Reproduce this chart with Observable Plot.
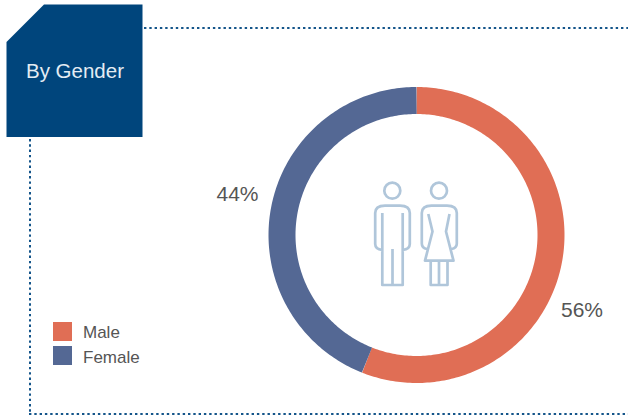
<!DOCTYPE html>
<html>
<head>
<meta charset="utf-8">
<script src="https://cdn.jsdelivr.net/npm/d3@7"></script>
<script src="https://cdn.jsdelivr.net/npm/@observablehq/plot@0.6"></script>
<style>
  html, body { margin: 0; padding: 0; background: #fff; }
  svg { display: block; }
</style>
</head>
<body>
<div id="chart"></div>
<script>
// Gender split shown on the donut
const genders = ["Male", "Female"];
const shares = [56, 44];
const shareLabels = ["56%", "44%"];
const panelTitle = "By Gender";

// Palette
const sliceColors = ["#e06e55", "#546894"];
const navy = "#00457c";
const dots = "#14558a";
const iconStroke = "#b0c6da";
const ink = "#555555";
const font = "'Liberation Sans', Arial, sans-serif";

// Page layout in pixels
const W = 628, H = 415;
const center = {x: 416, y: 234.5};
const ringRadius = 134.5, ringWidth = 27;

// Each slice becomes a polyline along the ring, clockwise from twelve o'clock
const slices = d3.pie().sort(null).value(d => d)(shares);
const ring = slices.flatMap((s, i) => {
  const steps = Math.ceil((s.endAngle - s.startAngle) * 60);
  return d3.range(steps + 1).map(k => {
    const a = s.startAngle + (s.endAngle - s.startAngle) * k / steps;
    return {
      gender: genders[i],
      x: center.x + ringRadius * Math.sin(a),
      y: center.y - ringRadius * Math.cos(a)
    };
  });
});

// Decorative shapes: title tab and the two pictograms
const tabPath = "M6.5,42L44,4.5H142.5V137H6.5Z";
const figurePaths = [
  // man
  "M384.3,190.7a8,8 0 1,0 16,0a8,8 0 1,0 -16,0" +
  "M382.3,250C378,249.5 375.2,247.5 375.2,244V213C375.2,208 379,205.6 385,205.6H400C406,205.6 409.8,208 409.8,213V244C409.8,247.5 407,249.5 402.7,250" +
  "M382.3,213V285H402.7V213M392.5,249V285",
  // woman
  "M431,190.7a8,8 0 1,0 16,0a8,8 0 1,0 -16,0" +
  "M427,249C424,248.5 421.8,246.5 421.8,243.5V213C421.8,208 425.5,205.6 431.5,205.6H447C453,205.6 456.8,208 456.8,213V243.5C456.8,246.5 454.5,248.5 451.5,249" +
  "M428.3,214L432.5,231.5L425,260.7H453.5L446,231.5L449.5,214" +
  "M430.7,260.7V285H447.5V260.7M439,260.7V285"
];

// Adds raw path geometry to the plot, given in page pixels through the position scales
const pathMark = (d, attrs) => (index, {x, y}) => {
  const p = d3.create("svg:path").attr("d", d)
    .attr("transform", `translate(${x(0)},${y(0)})`);
  for (const [k, v] of Object.entries(attrs)) p.attr(k, v);
  return p.node();
};

const dotted = {stroke: dots, strokeWidth: 2, strokeDasharray: "2.4 2.9"};
const legendRows = genders.map((g, i) => ({gender: g, row: i}));

const chart = Plot.plot({
  width: W,
  height: H,
  margin: 0,
  x: {domain: [0, W], range: [0, W], axis: null},
  y: {domain: [0, H], range: [0, H], axis: null},
  color: {domain: genders, range: sliceColors},
  style: {background: "#fff"},
  marks: [
    // dotted frame
    Plot.ruleY([27.5], {x1: 144, x2: W, ...dotted}),
    Plot.ruleX([29.5], {y1: 139, y2: 414, ...dotted}),
    Plot.ruleY([413.5], {x1: 29, x2: W, ...dotted}),

    // title tab
    pathMark(tabPath, {fill: navy}),
    Plot.text([panelTitle], {
      x: 74.5, y: 71, text: d => d, fill: "#e4ecf3",
      fontSize: 20.5, fontFamily: font
    }),

    // donut
    Plot.line(ring, {
      x: "x", y: "y", z: "gender", stroke: "gender",
      strokeWidth: ringWidth, strokeLinecap: "butt", strokeLinejoin: "round"
    }),

    // pictograms
    ...figurePaths.map(d => pathMark(d, {
      fill: "none", stroke: iconStroke, "stroke-width": 2.7, "stroke-linejoin": "round"
    })),

    // share labels
    Plot.text(shareLabels, {
      x: [581.5, 237], y: [310, 194], text: d => d, fill: ink,
      fontSize: 21, fontFamily: font
    }),

    // legend
    Plot.rect(legendRows, {
      x1: 53, x2: 72,
      y1: d => 322 + d.row * 24, y2: d => 341 + d.row * 24,
      fill: "gender"
    }),
    Plot.text(legendRows, {
      x: 82.5, y: d => 332.5 + d.row * 24.5, text: "gender", textAnchor: "start",
      fill: ink, fontSize: 17, fontFamily: font
    })
  ]
});

document.getElementById("chart").append(chart);
</script>
</body>
</html>
